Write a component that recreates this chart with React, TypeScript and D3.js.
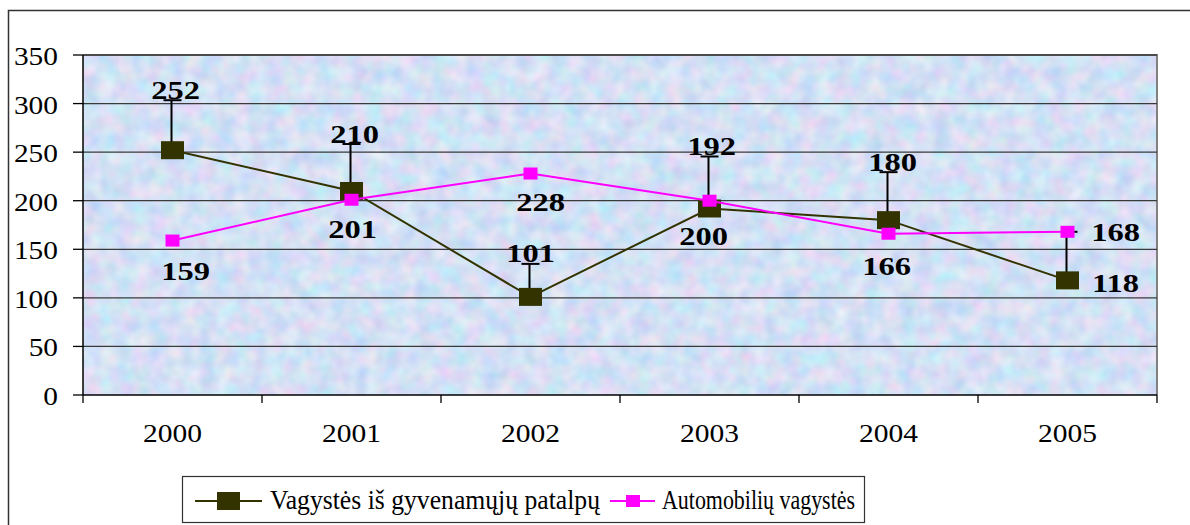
import { useEffect, useRef } from "react";
import * as d3 from "d3";

const years = ["2000", "2001", "2002", "2003", "2004", "2005"];
const houseThefts = [252, 210, 101, 192, 180, 118];
const carThefts = [159, 201, 228, 200, 166, 168];
const yTicks = [0, 50, 100, 150, 200, 250, 300, 350];
const seriesNames = ["Vagystės iš gyvenamųjų patalpų", "Automobilių vagystės"];

// label placement (offset of label centre from the point, in px) - layout only
const houseLabelPos = [
  { dx: 3, dy: -60, leader: true },
  { dx: 3, dy: -57, leader: true },
  { dx: 0, dy: -43, leader: true },
  { dx: 2, dy: -62, leader: true },
  { dx: 4, dy: -58, leader: true },
  { dx: 48, dy: 3, leader: false },
];
const carLabelPos = [
  { dx: 13, dy: 31 },
  { dx: 1, dy: 30 },
  { dx: 10, dy: 29 },
  { dx: -6, dy: 36 },
  { dx: -2, dy: 33 },
  { dx: 48, dy: 1 },
];

const W = 1190;
const H = 525;
const plot = { left: 83, right: 1157, top: 55, bottom: 395 };
const darkCol = "#333300";
const pinkCol = "#ff00ff";
const serif = "'Liberation Serif', 'Times New Roman', serif";

const App = () => {
  const ref = useRef<SVGSVGElement>(null);

  useEffect(() => {
    document.body.style.margin = "0";
    const svg = d3.select(ref.current);
    svg.selectAll("*").remove();

    const x = d3.scaleBand().domain(years).range([plot.left, plot.right]);
    const y = d3.scaleLinear().domain([0, 350]).range([plot.bottom, plot.top]);
    const cx = (i: number) => (x(years[i]) as number) + x.bandwidth() / 2;

    // mottled paper texture of the plot area
    const defs = svg.append("defs");
    const f = defs
      .append("filter")
      .attr("id", "tex")
      .attr("x", 0)
      .attr("y", 0)
      .attr("width", "100%")
      .attr("height", "100%")
      .attr("color-interpolation-filters", "sRGB");
    f.append("feTurbulence")
      .attr("type", "fractalNoise")
      .attr("baseFrequency", "0.06")
      .attr("numOctaves", 2)
      .attr("seed", 5);
    f.append("feColorMatrix")
      .attr("type", "matrix")
      .attr(
        "values",
        "0.3 0 0 0 0.68  0 0.18 0.04 0 0.77  0 0 0.08 0 0.92  0 0 0 0 1"
      );

    // outer chart border
    svg
      .append("rect")
      .attr("x", 8.5)
      .attr("y", 10.5)
      .attr("width", W)
      .attr("height", H)
      .attr("fill", "#fff")
      .attr("stroke", "#333")
      .attr("stroke-width", 1.5);

    // plot area background
    svg
      .append("rect")
      .attr("x", plot.left)
      .attr("y", plot.top)
      .attr("width", plot.right - plot.left)
      .attr("height", plot.bottom - plot.top)
      .attr("filter", "url(#tex)");
    svg
      .append("path")
      .attr("d", `M${plot.left},${plot.top}H${plot.right}V${plot.bottom}`)
      .attr("fill", "none")
      .attr("stroke", "#808080")
      .attr("stroke-width", 2);

    // gridlines
    svg
      .append("g")
      .selectAll("line")
      .data(yTicks.slice(1))
      .join("line")
      .attr("x1", plot.left)
      .attr("x2", plot.right)
      .attr("y1", d => y(d))
      .attr("y2", d => y(d))
      .attr("stroke", "#3a3a3a")
      .attr("stroke-width", 1.3);

    // axes
    svg
      .append("line")
      .attr("x1", plot.left)
      .attr("x2", plot.left)
      .attr("y1", plot.top)
      .attr("y2", plot.bottom)
      .attr("stroke", "#000")
      .attr("stroke-width", 1.5);
    svg
      .append("line")
      .attr("x1", plot.left)
      .attr("x2", plot.right)
      .attr("y1", plot.bottom)
      .attr("y2", plot.bottom)
      .attr("stroke", "#000")
      .attr("stroke-width", 1.5);

    svg
      .append("g")
      .selectAll("line")
      .data(yTicks)
      .join("line")
      .attr("x1", plot.left - 10)
      .attr("x2", plot.left)
      .attr("y1", d => y(d))
      .attr("y2", d => y(d))
      .attr("stroke", "#000")
      .attr("stroke-width", 1.3);

    const bounds = years.map(d => x(d) as number).concat([plot.right]);
    svg
      .append("g")
      .selectAll("line")
      .data(bounds)
      .join("line")
      .attr("x1", d => d)
      .attr("x2", d => d)
      .attr("y1", plot.bottom)
      .attr("y2", plot.bottom + 8)
      .attr("stroke", "#000")
      .attr("stroke-width", 1.3);

    svg
      .append("g")
      .selectAll("text")
      .data(yTicks)
      .join("text")
      .attr("transform", d => `translate(58,${y(d) + 10}) scale(1.13,1)`)
      .attr("text-anchor", "end")
      .style("font-family", serif)
      .style("font-size", "26px")
      .text(d => d);

    svg
      .append("g")
      .selectAll("text")
      .data(years)
      .join("text")
      .attr("transform", (d, i) => `translate(${cx(i)},442) scale(1.18,1)`)
      .attr("text-anchor", "middle")
      .style("font-family", serif)
      .style("font-size", "25px")
      .text(d => d);

    // leader lines for the house series labels
    const leaders = svg.append("g");
    houseThefts.forEach((v, i) => {
      const p = houseLabelPos[i];
      if (!p.leader) return;
      const lx = cx(i) - 1;
      const top = y(v) + p.dy + 10;
      leaders
        .append("line")
        .attr("x1", lx)
        .attr("x2", lx)
        .attr("y1", top)
        .attr("y2", y(v))
        .attr("stroke", "#000")
        .attr("stroke-width", 2);
      leaders
        .append("line")
        .attr("x1", lx - 8)
        .attr("x2", lx + 10)
        .attr("y1", top)
        .attr("y2", top)
        .attr("stroke", "#000")
        .attr("stroke-width", 2);
    });
    // leader of the last point runs up to the car label
    {
      const i = 5;
      const lx = cx(i) - 1;
      const top = y(carThefts[i]);
      leaders
        .append("line")
        .attr("x1", lx)
        .attr("x2", lx)
        .attr("y1", top)
        .attr("y2", y(houseThefts[i]))
        .attr("stroke", "#000")
        .attr("stroke-width", 2);
      leaders
        .append("line")
        .attr("x1", lx)
        .attr("x2", lx + 11)
        .attr("y1", top)
        .attr("y2", top)
        .attr("stroke", "#000")
        .attr("stroke-width", 2);
    }

    const line = d3
      .line<number>()
      .x((d, i) => cx(i))
      .y(d => y(d));

    svg
      .append("path")
      .datum(houseThefts)
      .attr("fill", "none")
      .attr("stroke", darkCol)
      .attr("stroke-width", 2)
      .attr("d", line);
    svg
      .append("g")
      .selectAll("rect")
      .data(houseThefts)
      .join("rect")
      .attr("x", (d, i) => cx(i) - 11.5)
      .attr("y", d => y(d) - 9)
      .attr("width", 23)
      .attr("height", 18)
      .attr("fill", darkCol);

    svg
      .append("path")
      .datum(carThefts)
      .attr("fill", "none")
      .attr("stroke", pinkCol)
      .attr("stroke-width", 2)
      .attr("d", line);
    svg
      .append("g")
      .selectAll("rect")
      .data(carThefts)
      .join("rect")
      .attr("x", (d, i) => cx(i) - 7)
      .attr("y", d => y(d) - 6)
      .attr("width", 14)
      .attr("height", 12)
      .attr("fill", pinkCol);

    // data labels
    const addLabels = (vals: number[], pos: { dx: number; dy: number }[]) =>
      svg
        .append("g")
        .selectAll("text")
        .data(vals)
        .join("text")
        .attr(
          "transform",
          (d, i) =>
            `translate(${cx(i) + pos[i].dx},${y(d) + pos[i].dy + 8.5}) scale(1.3,1)`
        )
        .attr("text-anchor", "middle")
        .style("font-family", serif)
        .style("font-weight", "bold")
        .style("font-size", "25px")
        .text(d => d);
    addLabels(houseThefts, houseLabelPos);
    addLabels(carThefts, carLabelPos);

    // legend
    const lg = svg.append("g");
    lg.append("rect")
      .attr("x", 182.5)
      .attr("y", 476.5)
      .attr("width", 682)
      .attr("height", 46)
      .attr("fill", "#fff")
      .attr("stroke", "#333")
      .attr("stroke-width", 1.2);
    lg.append("line")
      .attr("x1", 195)
      .attr("x2", 262)
      .attr("y1", 501)
      .attr("y2", 501)
      .attr("stroke", darkCol)
      .attr("stroke-width", 2);
    lg.append("rect")
      .attr("x", 217)
      .attr("y", 492)
      .attr("width", 23)
      .attr("height", 18)
      .attr("fill", darkCol);
    lg.append("text")
      .attr("x", 270)
      .attr("y", 509)
      .attr("textLength", 330)
      .attr("lengthAdjust", "spacingAndGlyphs")
      .style("font-family", serif)
      .style("font-size", "27px")
      .text(seriesNames[0]);
    lg.append("line")
      .attr("x1", 610)
      .attr("x2", 655)
      .attr("y1", 501)
      .attr("y2", 501)
      .attr("stroke", pinkCol)
      .attr("stroke-width", 2);
    lg.append("rect")
      .attr("x", 626)
      .attr("y", 495)
      .attr("width", 14)
      .attr("height", 12)
      .attr("fill", pinkCol);
    lg.append("text")
      .attr("x", 662)
      .attr("y", 509)
      .attr("textLength", 193)
      .attr("lengthAdjust", "spacingAndGlyphs")
      .style("font-family", serif)
      .style("font-size", "27px")
      .text(seriesNames[1]);
  }, []);

  return <svg ref={ref} width={W} height={H} style={{ display: "block" }} />;
};

export default App;
